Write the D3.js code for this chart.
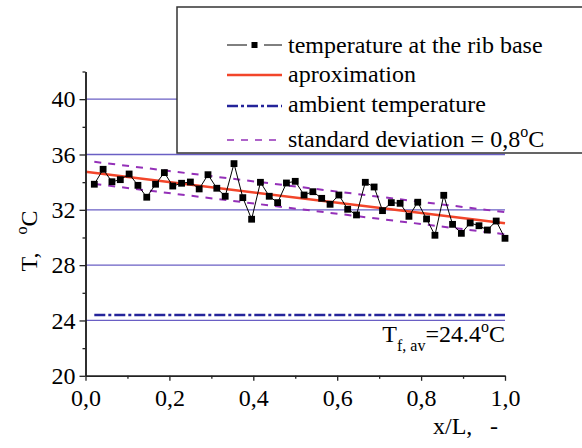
<!DOCTYPE html>
<html><head><meta charset="utf-8">
<script src="https://cdn.jsdelivr.net/npm/d3@7"></script>
</head><body style="margin:0"><svg id="c" width="582" height="448"></svg>
<script>
// ---- data ----
const xPos = [0.021,0.042,0.063,0.083,0.104,0.125,0.146,0.167,0.188,0.208,0.229,0.250,
  0.271,0.292,0.313,0.333,0.354,0.375,0.396,0.417,0.438,0.458,0.479,0.500,
  0.521,0.542,0.563,0.583,0.604,0.625,0.646,0.667,0.688,0.708,0.729,0.750,
  0.771,0.792,0.813,0.833,0.854,0.875,0.896,0.917,0.938,0.958,0.979,1.000];
const tempBase = [33.85,34.93,34.03,34.18,34.59,33.77,32.91,33.85,34.69,33.72,33.92,34.01,
  33.51,34.54,33.56,32.98,35.34,32.88,31.32,33.99,32.98,32.52,33.94,34.06,
  33.07,33.31,32.83,32.40,33.07,32.04,31.63,33.99,33.65,31.94,32.52,32.47,
  31.53,32.55,31.34,30.16,33.05,30.95,30.30,31.05,30.85,30.54,31.19,29.94];
const approxX = [0, 1];
const approxT = [34.75, 31.03];
const stdDev = 0.8;
const dashStartX = 0.021;
const ambientX = [0.021, 1];
const ambientT = 24.4;
const xTicks = [0, 0.2, 0.4, 0.6, 0.8, 1.0];
const xMinor = [0.1, 0.3, 0.5, 0.7, 0.9];
const yTicks = [20, 24, 28, 32, 36, 40];
const yMinor = [22, 26, 30, 34, 38, 42];
const legendLabels = ["temperature at the rib base", "aproximation", "ambient temperature", "standard deviation = 0,8"];

const FONT = "Liberation Serif";
const FS = 24, FSS = 16;

// ---- scales ----
const svg = d3.select("#c");
const x = d3.scaleLinear().domain([0, 1]).range([85.5, 505]);
const y = d3.scaleLinear().domain([20, 42]).range([375.8, 71.5]);
const approx = xv => approxT[0] + (approxT[1] - approxT[0]) * (xv - approxX[0]) / (approxX[1] - approxX[0]);

// gridlines
svg.append("g").selectAll("line").data(yTicks.filter(d => d > 20)).join("line")
  .attr("x1", x(0)).attr("x2", x(1)).attr("y1", d => y(d)).attr("y2", d => y(d))
  .attr("stroke", "#6a5fc4").attr("stroke-width", 1.3);

// ambient line
svg.append("line").attr("x1", x(ambientX[0])).attr("x2", x(ambientX[1]))
  .attr("y1", y(ambientT)).attr("y2", y(ambientT))
  .attr("stroke", "#24249a").attr("stroke-width", 2.4).attr("stroke-dasharray", "11,3,3,3");

// std dev lines
[stdDev, -stdDev].forEach(s => {
  svg.append("line").attr("x1", x(dashStartX)).attr("x2", x(1))
    .attr("y1", y(approx(dashStartX) + s)).attr("y2", y(approx(1) + s))
    .attr("stroke", "#9430b8").attr("stroke-width", 2).attr("stroke-dasharray", "7,7");
});

// approximation
svg.append("line").attr("x1", x(approxX[0])).attr("x2", x(approxX[1]))
  .attr("y1", y(approxT[0])).attr("y2", y(approxT[1]))
  .attr("stroke", "#f2452a").attr("stroke-width", 2.6);

// data line + markers
const pts = xPos.map((d, i) => [d, tempBase[i]]);
svg.append("path").datum(pts)
  .attr("d", d3.line().x(d => x(d[0])).y(d => y(d[1])))
  .attr("fill", "none").attr("stroke", "#000").attr("stroke-width", 1);
svg.append("g").selectAll("rect").data(pts).join("rect")
  .attr("x", d => x(d[0]) - 3.4).attr("y", d => y(d[1]) - 3.4)
  .attr("width", 6.8).attr("height", 6.8).attr("fill", "#000");

// axes
const fmt = d => d3.format(".1f")(d).replace(".", ",");
const gx = svg.append("g").attr("transform", `translate(0,${y(20)})`)
  .call(d3.axisBottom(x).tickValues(xTicks).tickFormat(fmt).tickSize(5).tickPadding(8).tickSizeOuter(0));
const gxm = svg.append("g").attr("transform", `translate(0,${y(20)})`)
  .call(d3.axisBottom(x).tickValues(xMinor).tickFormat("").tickSize(3).tickSizeOuter(0));
const gy = svg.append("g").attr("transform", `translate(${x(0)},0)`)
  .call(d3.axisLeft(y).tickValues(yTicks).tickSize(6).tickPadding(4).tickSizeOuter(0));
const gym = svg.append("g").attr("transform", `translate(${x(0)},0)`)
  .call(d3.axisLeft(y).tickValues(yMinor).tickFormat("").tickSize(3).tickSizeOuter(0));
[gx, gxm, gy, gym].forEach(g => {
  g.attr("font-family", FONT).attr("font-size", FS);
  g.selectAll(".domain").attr("stroke", "#222").attr("stroke-width", 1.5);
  g.selectAll(".tick line").attr("stroke", "#222").attr("stroke-width", 1.3);
  g.selectAll("text").attr("font-family", FONT).style("font-family", FONT).attr("font-size", FS).attr("fill", "#000");
});

function txt(xp, yp, anchor, transform) {
  const t = svg.append("text").attr("font-family", FONT).style("font-family", FONT)
    .attr("font-size", FS).attr("fill", "#000").attr("text-anchor", anchor || "start");
  if (transform) t.attr("transform", transform); else t.attr("x", xp).attr("y", yp);
  return t;
}

// axis titles
const yt = txt(0, 0, "middle", "translate(37,241) rotate(-90)");
yt.append("tspan").text("T,");
yt.append("tspan").attr("font-size", FSS).attr("dx", 18).attr("dy", -10).text("o");
yt.append("tspan").attr("dy", 10).text("C");

const xt = txt(433, 434);
xt.append("tspan").text("x/L,");
xt.append("tspan").attr("x", 490).text("-");

// annotation
const an = txt(505, 342, "end");
an.append("tspan").text("T");
an.append("tspan").attr("font-size", FSS).attr("dy", 9).text("f, av");
an.append("tspan").attr("dy", -9).text("=24.4");
an.append("tspan").attr("font-size", FSS).attr("dy", -10).text("o");
an.append("tspan").attr("dy", 10).text("C");

// legend
svg.append("rect").attr("x", 177).attr("y", 7).attr("width", 440).attr("height", 146)
  .attr("fill", "#fff").attr("stroke", "#333").attr("stroke-width", 1.5);
const symX1 = 227, symX2 = 282, txtX = 288;
const symY = [45, 75, 106, 140];
const txtY = [53, 82, 112, 147];
svg.append("line").attr("x1", symX1).attr("x2", 247).attr("y1", symY[0]).attr("y2", symY[0]).attr("stroke", "#000").attr("stroke-width", 1);
svg.append("line").attr("x1", 264).attr("x2", symX2).attr("y1", symY[0]).attr("y2", symY[0]).attr("stroke", "#000").attr("stroke-width", 1);
svg.append("rect").attr("x", 254.5 - 3).attr("y", symY[0] - 3).attr("width", 6).attr("height", 6).attr("fill", "#000");
svg.append("line").attr("x1", symX1).attr("x2", symX2).attr("y1", symY[1]).attr("y2", symY[1]).attr("stroke", "#f2452a").attr("stroke-width", 2.6);
svg.append("line").attr("x1", symX1).attr("x2", symX2).attr("y1", symY[2]).attr("y2", symY[2]).attr("stroke", "#24249a").attr("stroke-width", 2.4).attr("stroke-dasharray", "11,3,3,3");
svg.append("line").attr("x1", symX1).attr("x2", 277).attr("y1", symY[3]).attr("y2", symY[3]).attr("stroke", "#9430b8").attr("stroke-width", 1.6).attr("stroke-dasharray", "7,7");
legendLabels.forEach((t, i) => {
  const tx = txt(txtX, txtY[i]);
  tx.append("tspan").text(t);
  if (i === 3) {
    tx.append("tspan").attr("font-size", FSS).attr("dy", -10).text("o");
    tx.append("tspan").attr("dy", 10).text("C");
  }
});
</script></body></html>
